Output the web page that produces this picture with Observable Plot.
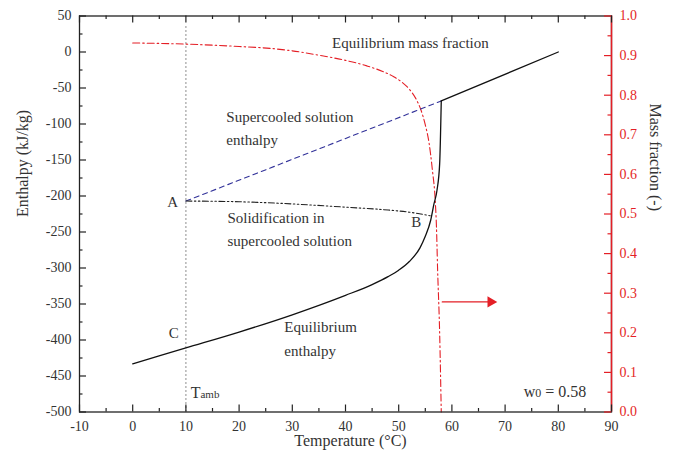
<!DOCTYPE html>
<html>
<head>
<meta charset="utf-8">
<script src="https://cdn.jsdelivr.net/npm/d3@7"></script>
<script src="https://cdn.jsdelivr.net/npm/@observablehq/plot@0.6"></script>
<style>
  html, body { margin: 0; padding: 0; background: #fff; }
  #chart { width: 689px; height: 466px; }
  #chart svg, #chart svg text { font-family: 'Liberation Serif', 'Times New Roman', serif; }
</style>
</head>
<body>
<div id="chart"></div>
<script>
// ---- data ----
const xTicks = [-10, 0, 10, 20, 30, 40, 50, 60, 70, 80, 90];
const xMinor = [-5, 5, 15, 25, 35, 45, 55, 65, 75, 85];
const yTicks = [50, 0, -50, -100, -150, -200, -250, -300, -350, -400, -450, -500];
const yMinor = [25, -25, -75, -125, -175, -225, -275, -325, -375, -425, -475];
const wTicks = [0, 0.1, 0.2, 0.3, 0.4, 0.5, 0.6, 0.7, 0.8, 0.9, 1.0];
const wTickLabels = ["0.0", "0.1", "0.2", "0.3", "0.4", "0.5", "0.6", "0.7", "0.8", "0.9", "1.0"];
const wMinor = [0.05, 0.15, 0.25, 0.35, 0.45, 0.55, 0.65, 0.75, 0.85, 0.95];

// equilibrium enthalpy (kJ/kg): curved part and straight liquid part
const eqT = [0, 10, 20, 30, 40, 45, 48, 50, 52, 54, 55, 56, 56.6, 57.2, 57.7, 58];
const eqH = [-433, -411, -389, -365, -338, -323, -312, -303, -291, -272, -256, -234, -212, -192, -155, -68];
const liqT = [58, 80];
const liqH = [-68, 0];
// supercooled solution enthalpy
const scT = [10, 58];
const scH = [-207, -68];
// solidification in supercooled solution (A -> B)
const soT = [10, 20, 30, 34.6, 40, 47.2, 52, 56.3];
const soH = [-207, -208, -211, -213, -215.5, -219, -222.5, -228];
// equilibrium mass fraction (right axis)
const mfT = [0, 10, 20, 26, 30, 35, 40, 44, 47, 49, 50.5, 52, 53.2, 54.2, 55, 55.7, 56.3, 56.9, 57.1, 57.3, 57.7, 58];
const mfW = [0.932, 0.929, 0.923, 0.918, 0.912, 0.901, 0.888, 0.874, 0.86, 0.847, 0.834, 0.815, 0.792, 0.762, 0.725, 0.68, 0.615, 0.526, 0.467, 0.366, 0.198, 0];
// arrow pointing to right axis
const arrowT = [58.2, 67.3];
const arrowW = 0.278;
// dotted ambient temperature line
const tAmb = 10;
const tAmbTop = 37;
// annotations
const annText = ["Equilibrium mass fraction", "Supercooled solution", "enthalpy", "A", "B", "C",
  "Solidification in", "supercooled solution", "Equilibrium", "enthalpy", "Tamb", "w0 = 0.58"];
const annT = [52.2, 17.6, 17.6, 7.5, 53.3, 7.7, 17.8, 17.8, 28.5, 28.5, 10.9, 73.5];
const annH = [12, -91, -123, -209, -237, -391, -231, -263, -382, -415, -474, -472];
const annAnchor = ["middle", "start", "start", "middle", "middle", "middle", "start", "start", "start", "start", "start", "start"];

// ---- helpers ----
const red = "#e41f26";
const ink = "#222";
const toH = w => -500 + w * 550; // map mass fraction to enthalpy-axis position
const pts = (xs, ys) => xs.map((x, i) => ({x, y: ys[i]}));
const ann = annText.map((t, i) => ({t, x: annT[i], y: annH[i], a: annAnchor[i]}));
const fw = 689 - 79 - 78, fh = 466 - 15.5 - 54.5; // frame size in px
const ux = 100 / fw, uy = 550 / fh;               // data units per pixel
const majX = 7 * ux, minX = 3.5 * ux, majY = 7 * uy, minY = 3.5 * uy;
const tickOpts = {stroke: ink, strokeWidth: 1.2};

const plot = Plot.plot({
  width: 689,
  height: 466,
  marginLeft: 79,
  marginRight: 78,
  marginTop: 15.5,
  marginBottom: 54.5,
  x: {domain: [-10, 90], axis: null},
  y: {domain: [-500, 50], axis: null},
  style: {fontFamily: "'Liberation Serif', 'Times New Roman', serif", fontSize: "14px", color: ink, background: "#fff"},
  marks: [
    // dotted vertical at T_amb
    Plot.ruleX([tAmb], {y1: -500, y2: tAmbTop, stroke: "#333", strokeWidth: 1.1, strokeDasharray: "1,3"}),
    // curves
    Plot.line(pts(mfT, mfW), {x: "x", y: d => toH(d.y), curve: "monotone-x", stroke: red, strokeWidth: 1.1, strokeDasharray: "7,3,1.5,3"}),
    Plot.line(pts(scT, scH), {x: "x", y: "y", stroke: "#33339a", strokeWidth: 1.1, strokeDasharray: "5,4"}),
    Plot.line(pts(soT, soH), {x: "x", y: "y", curve: "monotone-x", stroke: "#222", strokeWidth: 1.1, strokeDasharray: "6,2.5,1.5,2.5,1.5,2.5"}),
    Plot.line(pts(eqT, eqH), {x: "x", y: "y", curve: "monotone-x", stroke: "#111", strokeWidth: 1.3}),
    Plot.line(pts(liqT, liqH), {x: "x", y: "y", stroke: "#111", strokeWidth: 1.3}),
    // arrow
    Plot.line(pts(arrowT, [arrowW, arrowW]), {x: "x", y: d => toH(d.y), stroke: red, strokeWidth: 1.4}),
    Plot.dot([{x: arrowT[1], y: arrowW}], {x: "x", y: d => toH(d.y), symbol: "triangle", rotate: 90, r: 4.2, fill: red, stroke: "none"}),
    // annotations
    Plot.text(ann.filter(d => d.a === "start"), {x: "x", y: "y", text: "t", textAnchor: "start", fontSize: 15, fill: "#333"}),
    Plot.text(ann.filter(d => d.a === "middle"), {x: "x", y: "y", text: "t", textAnchor: "middle", fontSize: 15, fill: "#333"}),
    // frame
    Plot.frame({stroke: ink, strokeWidth: 1.3}),
    Plot.ruleX([90], {stroke: red, strokeWidth: 1.5}),
    // bottom / top ticks (inward)
    Plot.ruleX(xTicks, {y1: -500, y2: -500 + majY, ...tickOpts}),
    Plot.ruleX(xMinor, {y1: -500, y2: -500 + minY, ...tickOpts}),
    Plot.ruleX(xTicks, {y1: 50, y2: 50 - majY, ...tickOpts}),
    Plot.ruleX(xMinor, {y1: 50, y2: 50 - minY, ...tickOpts}),
    // left ticks (inward)
    Plot.ruleY(yTicks, {x1: -10, x2: -10 + majX, ...tickOpts}),
    Plot.ruleY(yMinor, {x1: -10, x2: -10 + minX, ...tickOpts}),
    // right ticks (inward, red)
    Plot.ruleY(wTicks.map(toH), {x1: 90, x2: 90 - majX, stroke: red, strokeWidth: 1.2}),
    Plot.ruleY(wMinor.map(toH), {x1: 90, x2: 90 - minX, stroke: red, strokeWidth: 1.2}),
    // tick labels
    Plot.axisX(xTicks, {anchor: "bottom", label: null, tickSize: 0, tickPadding: 9, fontSize: 14, fill: "#333", tickFormat: d => String(d)}),
    Plot.axisY(yTicks, {anchor: "left", label: null, tickSize: 0, tickPadding: 8, fontSize: 14, fill: "#333", tickFormat: d => String(d)}),
    Plot.axisY(wTicks.map(toH), {anchor: "right", label: null, tickSize: 0, tickPadding: 8, fontSize: 14, fill: red, tickFormat: (d, i) => wTickLabels[i]}),
    // axis titles
    Plot.text(["Enthalpy (kJ/kg)"], {frameAnchor: "left", dx: -57, dy: 3, rotate: -90, lineAnchor: "middle", fontSize: 16, fill: "#333"}),
    Plot.text(["Mass fraction (-)"], {frameAnchor: "right", dx: 44, dy: -3, rotate: 90, lineAnchor: "middle", fontSize: 16, fill: "#333"}),
    Plot.text(["Temperature (°C)"], {frameAnchor: "bottom", dx: 5, dy: 29, lineAnchor: "middle", fontSize: 16, fill: "#333"})
  ]
});

// subscripts in annotation texts
d3.select(plot).selectAll("text").each(function () {
  const s = this.textContent;
  if (s === "Tamb") {
    this.textContent = "";
    d3.select(this).append("tspan").attr("font-size", 16).text("T");
    d3.select(this).append("tspan").attr("font-size", 11).text("amb");
  } else if (s === "w0 = 0.58") {
    this.textContent = "";
    d3.select(this).append("tspan").attr("font-size", 16).text("w");
    d3.select(this).append("tspan").attr("font-size", 12).text("0");
    d3.select(this).append("tspan").attr("font-size", 16).text(" = 0.58");
  }
});

document.getElementById("chart").appendChild(plot);
</script>
</body>
</html>
